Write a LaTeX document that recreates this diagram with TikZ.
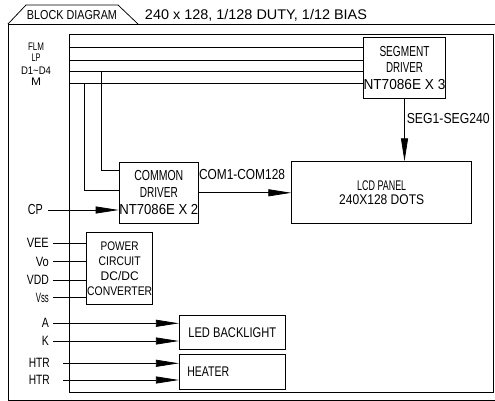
\documentclass[tikz,border=0pt]{standalone}
\usepackage{fontspec}
\setmainfont{Liberation Sans}
\usepackage{graphicx}
\usetikzlibrary{arrows.meta}
\newcommand\tw[2]{\resizebox{#1pt}{\height}{#2}}
\begin{document}
\begin{tikzpicture}[x=1pt,y=-1pt,
  ln/.style={line width=0.75pt, draw=black},
  arr/.style={ln, -{Triangle[length=23pt,width=7pt]}},
  box/.style={ln, draw, inner sep=0pt, align=center},
  lbl/.style={inner sep=0pt},
  fa/.style={font=\fontsize{13.5}{13.5}\selectfont},
  fs/.style={font=\fontsize{11}{11}\selectfont},
  fb/.style={font=\fontsize{14.5}{14.5}\selectfont},
]
\useasboundingbox (0,0) rectangle (495,401);
% outer frame and tab
\draw[ln] (497,24) -- (8,24) -- (8,400) -- (497,400);
\draw[ln] (8,24) -- (26,5) -- (118,5) -- (138,24);
\node[lbl, font=\fontsize{13}{13}\selectfont] (title) at (72,15) {\tw{90}{BLOCK DIAGRAM}};
\node[lbl, font=\fontsize{14}{14}\selectfont, anchor=base] (spec) at (256,20) {\tw{222}{240 x 128, 1/128 DUTY, 1/12 BIAS}};
% inner frame
\node[ln, draw, minimum width=424pt, minimum height=358pt, inner sep=0pt] (inner) at (281,213) {};
% blocks
\node[box, minimum width=79pt, minimum height=61pt, font=\fontsize{14.5}{16.7}\selectfont] (seg) at (404.5,67.8)
  {\tw{50}{SEGMENT}\\\tw{37}{DRIVER}\\\tw{82}{NT7086E X 3}};
\node[box, minimum width=79.5pt, minimum height=61pt, font=\fontsize{14.5}{17}\selectfont] (com) at (158.8,192.8)
  {\tw{49}{COMMON}\\\tw{38}{DRIVER}\\\tw{79}{NT7086E X 2}};
\node[box, minimum width=180pt, minimum height=61.6pt, font=\fontsize{14}{13.5}\selectfont] (lcd) at (381.7,192.5)
  {\tw{49}{LCD PANEL}\\\tw{85}{240X128 DOTS}};
\node[box, minimum width=66pt, minimum height=71.3pt, font=\fontsize{12.5}{15}\selectfont] (pwr) at (119.7,268.3)
  {\tw{38}{POWER}\\\tw{42}{CIRCUIT}\\\tw{38}{DC/DC}\\\tw{65}{CONVERTER}};
\node[box, minimum width=106pt, minimum height=33.3pt, font=\fontsize{14}{14}\selectfont] (led) at (232.3,332.3)
  {\tw{88}{LED BACKLIGHT}};
\node[box, minimum height=34.3pt, text width=90pt, inner xsep=8pt, align=left, font=\fontsize{14}{14}\selectfont] (htr) at (232.3,371.8)
  {\tw{42}{HEATER}};
% top input labels
\node[lbl, fs] (flm) at (36,46.3) {\tw{16}{FLM}};
\node[lbl, fs] (lp) at (36,57.3) {\tw{9}{LP}};
\node[lbl, fs] (dd) at (36,70.8) {\tw{30}{D1\textasciitilde D4}};
\node[lbl, fs] (mm) at (36,81.8) {\tw{10}{M}};
% bus lines
\coordinate (b1) at (69,47.3);
\coordinate (b2) at (69,60);
\coordinate (b3) at (69,71.7);
\coordinate (b4) at (69,83.3);
\draw[ln] (b1) -- (b1 -| seg.west);
\draw[ln] (b2) -- (b2 -| seg.west);
\draw[ln] (b3) -- (b3 -| seg.west);
\draw[ln] (b4) -- (b4 -| seg.west);
\coordinate (bd) at (101,71.7);
\coordinate (bm) at (84,83.3);
\draw[ln] (bd) |- (com.west |- 0,170.7);
\draw[ln] (bm) |- (com.west |- 0,190);
% CP
\node[lbl, fb, anchor=east] (cp) at (43,210) {\tw{15}{CP}};
\draw[arr] ([xshift=5pt]cp.east) -- (cp.east -| com.west);
% COM and SEG
\draw[arr] (com.east) -- (com.east -| lcd.west);
\node[lbl, fb] (coml) at (242,175) {\tw{86}{COM1-COM128}};
\draw[arr] (seg.south) -- (seg.south |- lcd.north);
\node[lbl, fb] (segl) at (448.3,118.3) {\tw{83}{SEG1-SEG240}};
% power inputs
\node[lbl, fa, anchor=east] (vee) at (49,243.3) {\tw{22}{VEE}};
\node[lbl, fa, anchor=east] (vo) at (49,261.7) {\tw{13}{Vo}};
\node[lbl, fa, anchor=east] (vdd) at (49,280) {\tw{22}{VDD}};
\node[lbl, fa, anchor=east] (vss) at (49,297.7) {\tw{13}{Vss}};
\draw[ln] ([xshift=4.3pt]vee.east) -- (vee.east -| pwr.west);
\draw[ln] ([xshift=4.3pt]vo.east) -- (vo.east -| pwr.west);
\draw[ln] ([xshift=4.3pt]vdd.east) -- (vdd.east -| pwr.west);
\draw[ln] ([xshift=4.3pt]vss.east) -- (vss.east -| pwr.west);
% backlight
\node[lbl, fa, anchor=east] (ka) at (49,323.3) {\tw{7}{A}};
\node[lbl, fa, anchor=east] (kk) at (49,341) {\tw{7}{K}};
\draw[arr] ([xshift=4.3pt]ka.east) -- (ka.east -| led.west);
\draw[arr] ([xshift=4.3pt]kk.east) -- (kk.east -| led.west);
% heater
\node[lbl, fa, anchor=east] (h1) at (50,363.3) {\tw{21}{HTR}};
\node[lbl, fa, anchor=east] (h2) at (50,380) {\tw{21}{HTR}};
\draw[arr] ([xshift=13.3pt]h1.east) -- (h1.east -| htr.west);
\draw[arr] ([xshift=13.3pt]h2.east) -- (h2.east -| htr.west);
\end{tikzpicture}
\end{document}
